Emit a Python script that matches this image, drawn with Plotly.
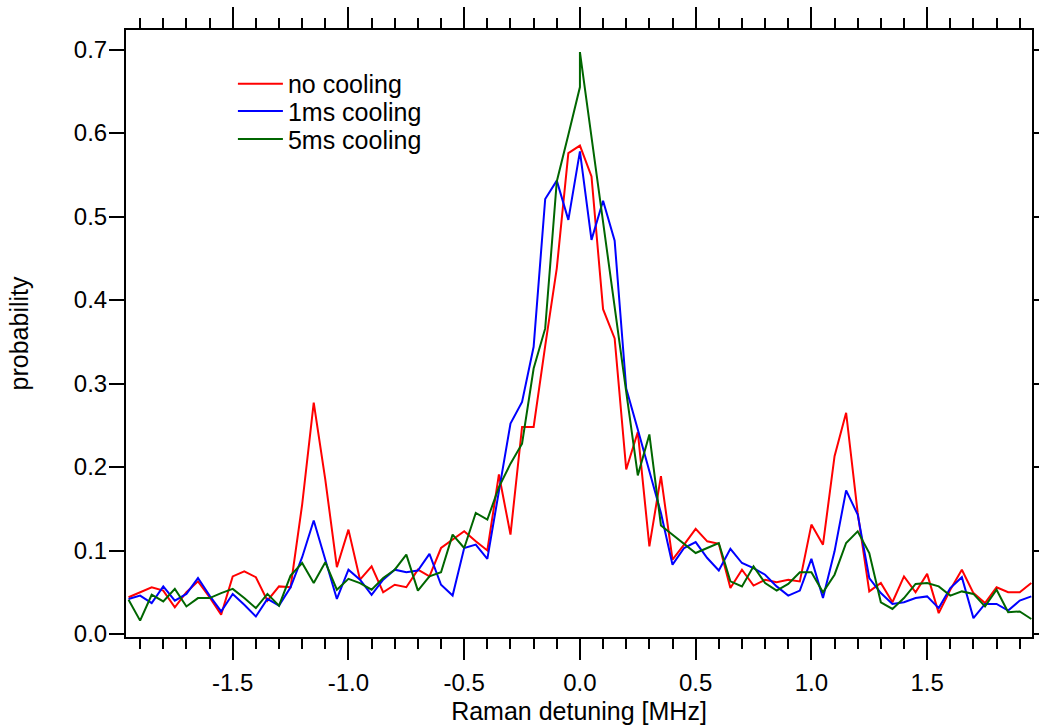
import numpy as np
import plotly.graph_objects as go

# Raman detuning grid [MHz]
x_vals = [round(-1.95 + 0.05 * i, 2) for i in range(79)]

no_cooling = [0.044, 0.050, 0.056, 0.052, 0.032, 0.050, 0.063, 0.044, 0.023, 0.069,
              0.075, 0.068, 0.040, 0.057, 0.056, 0.155, 0.277, 0.185, 0.080, 0.125,
              0.065, 0.081, 0.050, 0.059, 0.056, 0.077, 0.069, 0.103, 0.113, 0.123,
              0.111, 0.100, 0.191, 0.119, 0.248, 0.248, 0.345, 0.438, 0.576, 0.585,
              0.548, 0.389, 0.354, 0.197, 0.242, 0.105, 0.189, 0.089, 0.107, 0.126,
              0.111, 0.108, 0.055, 0.077, 0.058, 0.065, 0.062, 0.065, 0.063, 0.131,
              0.107, 0.213, 0.265, 0.145, 0.051, 0.061, 0.038, 0.069, 0.050, 0.072,
              0.025, 0.053, 0.077, 0.049, 0.037, 0.056, 0.050, 0.050, 0.061]

cool_1ms = [0.042, 0.046, 0.037, 0.057, 0.040, 0.048, 0.067, 0.046, 0.027, 0.048,
            0.035, 0.021, 0.042, 0.034, 0.056, 0.092, 0.136, 0.090, 0.042, 0.077,
            0.065, 0.047, 0.065, 0.077, 0.074, 0.076, 0.096, 0.059, 0.046, 0.103,
            0.107, 0.090, 0.170, 0.252, 0.278, 0.344, 0.521, 0.543, 0.496, 0.578,
            0.472, 0.519, 0.471, 0.294, 0.245, 0.195, 0.145, 0.083, 0.103, 0.110,
            0.091, 0.076, 0.102, 0.085, 0.079, 0.071, 0.057, 0.046, 0.052, 0.090,
            0.043, 0.099, 0.172, 0.143, 0.067, 0.049, 0.036, 0.038, 0.043, 0.045,
            0.031, 0.055, 0.068, 0.019, 0.036, 0.036, 0.028, 0.040, 0.045]

# 5 ms series contains two readings at 0.0 MHz
x_5ms = x_vals[:40] + [0.0] + x_vals[40:]
cool_5ms = [0.041, 0.016, 0.047, 0.039, 0.054, 0.033, 0.043, 0.043, 0.049, 0.054,
            0.043, 0.031, 0.048, 0.034, 0.070, 0.085, 0.061, 0.086, 0.053, 0.066,
            0.061, 0.053, 0.067, 0.077, 0.095, 0.052, 0.069, 0.074, 0.119, 0.103,
            0.145, 0.137, 0.176, 0.204, 0.228, 0.318, 0.366, 0.542, 0.598, 0.655,
            0.697,
            0.594, 0.494, 0.392, 0.290, 0.190, 0.239, 0.130, 0.119, 0.108, 0.097,
            0.103, 0.109, 0.063, 0.057, 0.081, 0.061, 0.052, 0.060, 0.074, 0.074,
            0.050, 0.071, 0.109, 0.123, 0.097, 0.038, 0.030, 0.043, 0.060, 0.061,
            0.057, 0.046, 0.051, 0.048, 0.033, 0.053, 0.026, 0.027, 0.018]

x_ticks = [-1.5, -1.0, -0.5, 0.0, 0.5, 1.0, 1.5]
x_tick_labels = ["-1.5", "-1.0", "-0.5", "0.0", "0.5", "1.0", "1.5"]
y_ticks = [0.0, 0.1, 0.2, 0.3, 0.4, 0.5, 0.6, 0.7]
y_tick_labels = ["0.0", "0.1", "0.2", "0.3", "0.4", "0.5", "0.6", "0.7"]

FONT = "Arial, Liberation Sans, sans-serif"
TICK_SIZE = 24
TEXT_SIZE = 25

fig = go.Figure()
fig.add_trace(go.Scatter(x=x_vals, y=no_cooling, mode="lines", name="no cooling",
                         legend="legend",
                         line=dict(color="#ff0000", width=2)))
fig.add_trace(go.Scatter(x=x_vals, y=cool_1ms, mode="lines", name="1ms cooling",
                         legend="legend2",
                         line=dict(color="#0000ff", width=2)))
fig.add_trace(go.Scatter(x=x_5ms, y=cool_5ms, mode="lines", name="5ms cooling",
                         legend="legend3",
                         line=dict(color="#006600", width=2)))

def leg(y):
    return dict(x=0.118, y=y, xanchor="left", yanchor="top",
                bgcolor="rgba(0,0,0,0)", borderwidth=0,
                font=dict(family=FONT, size=TEXT_SIZE, color="black"),
                itemwidth=45, tracegroupgap=0)

fig.update_layout(
    width=1039, height=725,
    margin=dict(l=126, r=7, t=30, b=88, autoexpand=False),
    paper_bgcolor="white", plot_bgcolor="white",
    font=dict(family=FONT, size=TEXT_SIZE, color="black"),
    showlegend=True,
    legend=leg(0.949),
    legend2=leg(0.904),
    legend3=leg(0.858),
    xaxis=dict(range=[-1.961, 1.953], showgrid=False, zeroline=False,
               automargin=False,
               showline=True, linecolor="black", linewidth=2, mirror="allticks",
               ticks="outside", ticklen=21, tickwidth=2, tickcolor="black",
               tickvals=x_ticks, ticktext=x_tick_labels,
               ticklabelstandoff=2,
               tickfont=dict(family=FONT, size=TICK_SIZE, color="black"),
               minor=dict(dtick=0.1, tick0=0, ticks="outside", ticklen=10,
                          tickwidth=2, tickcolor="black", showgrid=False),
               title=dict(text="Raman detuning [MHz]", standoff=8,
                          font=dict(family=FONT, size=TEXT_SIZE, color="black"))),
    yaxis=dict(range=[-0.0036, 0.7234], showgrid=False, zeroline=False,
               automargin=False,
               showline=True, linecolor="black", linewidth=2, mirror="allticks",
               ticks="outside", ticklen=15, tickwidth=2, tickcolor="black",
               tickvals=y_ticks, ticktext=y_tick_labels,
               ticklabelstandoff=-3,
               tickfont=dict(family=FONT, size=TICK_SIZE, color="black"),
               title=dict(text="probability", standoff=38,
                          font=dict(family=FONT, size=TEXT_SIZE, color="black"))),
)

fig.write_html("out.html")
